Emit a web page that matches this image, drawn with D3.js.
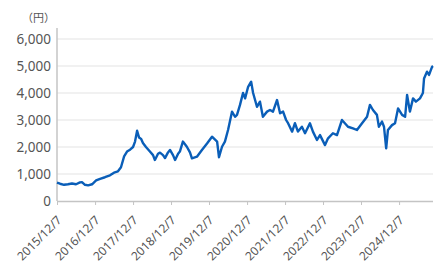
<html>
<head>
<meta charset="utf-8">
<script src="https://d3js.org/d3.v7.min.js"></script>
<style>
	body { margin: 0; background: #fff; }
	text { font-family: "Noto Sans", "Noto Sans CJK JP", sans-serif; }
</style>
</head>
<body>
<div id="chart"></div>
<script>
// price readings (円)
var dates = ["2015-12-07","2016-01-05","2016-02-13","2016-03-21","2016-04-29","2016-06-07","2016-07-15","2016-08-03","2016-09-01","2016-10-01",
	"2016-11-08","2016-12-17","2017-01-24","2017-03-12","2017-04-29","2017-06-07","2017-07-15","2017-08-13","2017-09-12","2017-10-10",
	"2017-11-08","2017-12-07","2017-12-26","2018-01-15","2018-02-03","2018-02-23","2018-03-12","2018-04-10","2018-05-18","2018-06-17",
	"2018-07-05","2018-08-04","2018-08-23","2018-09-21","2018-10-10","2018-11-08","2018-11-27","2018-12-26","2019-01-15","2019-02-13",
	"2019-03-02","2019-03-31","2019-05-08","2019-06-07","2019-06-26","2019-08-13","2019-09-30","2019-11-18","2020-01-05","2020-02-23",
	"2020-03-12","2020-04-10","2020-05-08","2020-06-07","2020-07-15","2020-08-13","2020-09-01","2020-09-30","2020-10-29","2020-11-18",
	"2020-12-17","2021-01-15","2021-02-03","2021-03-12","2021-04-10","2021-05-08","2021-06-17","2021-07-15","2021-08-13","2021-09-21",
	"2021-10-20","2021-11-18","2021-12-17","2022-01-05","2022-02-13","2022-03-12","2022-04-10","2022-05-18","2022-06-17","2022-08-03",
	"2022-09-01","2022-10-10","2022-11-08","2022-12-26","2023-01-24","2023-03-12","2023-04-20","2023-06-07","2023-07-05","2023-08-04",
	"2023-09-21","2023-10-29","2023-12-17","2024-02-03","2024-03-02","2024-03-31","2024-05-08","2024-05-27","2024-06-26","2024-07-15",
	"2024-08-05","2024-08-22","2024-09-30","2024-10-29","2024-11-27","2025-01-05","2025-02-03","2025-02-22","2025-03-21","2025-04-20",
	"2025-05-18","2025-06-26","2025-07-24","2025-08-04","2025-09-01","2025-09-21","2025-10-20","2025-10-29"]
var prices = [680,640,600,620,650,620,690,700,600,580,
	620,760,820,880,950,1050,1100,1250,1650,1830,
	1900,2000,2200,2600,2350,2300,2150,2000,1830,1700,
	1520,1750,1790,1700,1590,1800,1890,1700,1520,1750,
	1830,2200,2010,1800,1580,1640,1890,2130,2380,2200,
	1620,2010,2200,2630,3310,3120,3190,3560,4000,3800,
	4230,4420,4000,3490,3680,3120,3310,3370,3310,3740,
	3250,3310,3000,2880,2570,2880,2570,2750,2510,2880,
	2570,2260,2440,2070,2320,2510,2440,3000,2880,2750,
	2690,2630,2880,3120,3560,3370,3190,2750,2940,2750,
	1950,2630,2810,2880,3430,3190,3120,3930,3310,3800,
	3680,3800,4000,4540,4790,4670,4970,5000]

var yTicks = [0,1000,2000,3000,4000,5000,6000]
var xTickLabels = ["2015/12/7","2016/12/7","2017/12/7","2018/12/7","2019/12/7","2020/12/7","2021/12/7","2022/12/7","2023/12/7","2024/12/7"]

var width = 448, height = 280
var margin = {top: 39, right: 15, bottom: 79, left: 57}

var parse = d3.timeParse("%Y-%m-%d")
var data = dates.map(function(d, i){ return {date: parse(d), value: prices[i]} })

var svg = d3.select("#chart").append("svg")
	.attr("width", width)
	.attr("height", height)

var x = d3.scaleTime()
	.domain([parse("2015-12-07"), parse("2025-10-29")])
	.range([margin.left, width - margin.right])

var y = d3.scaleLinear()
	.domain([0, 6000])
	.range([height - margin.bottom, margin.top])

// grid lines
svg.append("g")
	.selectAll("line")
	.data(yTicks.filter(function(d){ return d > 0 }))
	.enter()
	.append("line")
	.attr("x1", margin.left)
	.attr("x2", width - margin.right)
	.attr("y1", function(d){ return y(d) })
	.attr("y2", function(d){ return y(d) })
	.style("stroke", "#e3e3e3")
	.style("stroke-width", 1)

// y axis
var yAxis = svg.append("g")
	.attr("transform", "translate(" + margin.left + ",0)")
	.call(d3.axisLeft(y).tickValues(yTicks).tickSize(0).tickPadding(6).tickFormat(d3.format(",")))
yAxis.select(".domain").remove()
yAxis.selectAll("text")
	.style("font-size", "13.5px")
	.style("fill", "#555")

svg.append("line")
	.attr("x1", margin.left).attr("x2", margin.left)
	.attr("y1", 28).attr("y2", y(0))
	.style("stroke", "#c4c4c4")
	.style("stroke-width", 1.5)

// x axis
var tickDates = xTickLabels.map(function(s){ return d3.timeParse("%Y/%m/%d")(s) })
var xAxis = svg.append("g")
	.attr("transform", "translate(0," + y(0) + ")")
	.call(d3.axisBottom(x).tickValues(tickDates).tickSize(4).tickFormat(function(d, i){ return xTickLabels[i] }))
xAxis.select(".domain")
	.attr("d", "M" + margin.left + ",0.5H" + (width - margin.right))
	.style("stroke", "#c4c4c4")
	.style("stroke-width", 1.5)
xAxis.selectAll(".tick line").style("stroke", "#c4c4c4")
xAxis.selectAll("text")
	.style("font-size", "12px")
	.style("fill", "#555")
	.style("text-anchor", "end")
	.attr("x", 0)
	.attr("y", 0)
	.attr("dy", "0.35em")
	.attr("transform", "translate(2,17) rotate(-45)")

// unit label
svg.append("text")
	.attr("x", 22)
	.attr("y", 22)
	.text("（円）")
	.style("font-family", "'Noto Sans CJK JP', sans-serif")
	.style("font-size", "11px")
	.style("fill", "#555")

// price line
var line = d3.line()
	.x(function(d){ return x(d.date) })
	.y(function(d){ return y(d.value) })

svg.append("path")
	.datum(data)
	.attr("d", line)
	.style("fill", "none")
	.style("stroke", "#0a5eb8")
	.style("stroke-width", 2.4)
	.style("stroke-linejoin", "round")
</script>
</body>
</html>
